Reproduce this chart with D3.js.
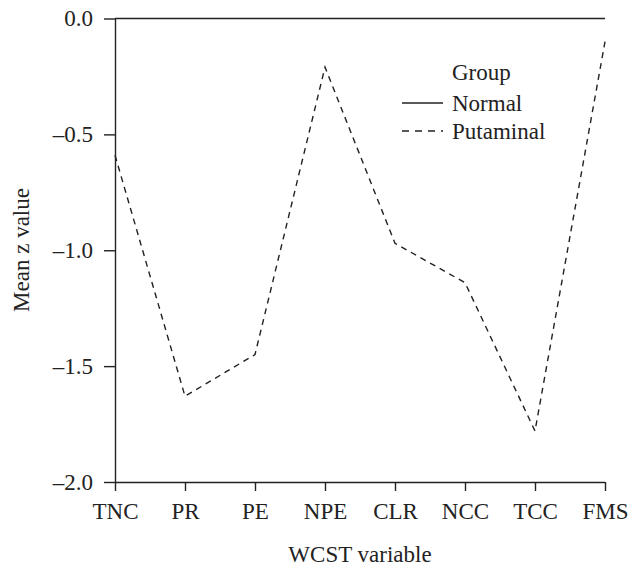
<!DOCTYPE html>
<html><head><meta charset="utf-8">
<script src="https://cdn.jsdelivr.net/npm/d3@7"></script>
<style>body{margin:0;background:#fff}svg{display:block}
text{font-family:"Liberation Serif","Times New Roman",Times,"DejaVu Serif",serif;}</style>
</head><body>
<svg id="c" width="637" height="572"></svg>
<script>
const categories = ["TNC","PR","PE","NPE","CLR","NCC","TCC","FMS"];
const normalValues = [0,0,0,0,0,0,0,0];
const putaminalValues = [-0.59,-1.63,-1.45,-0.21,-0.97,-1.14,-1.78,-0.10];
const yTicks = [0,-0.5,-1.0,-1.5,-2.0];
const seriesNames = ["Normal","Putaminal"];

const svg = d3.select("#c");
const font = "\"Liberation Serif\", \"Times New Roman\", Times, \"DejaVu Serif\", serif";
const ink = "#222";
const fs = 23;
const x = d3.scalePoint().domain(categories).range([115,605]).padding(0);
const y = d3.scaleLinear().domain([-2,0]).range([482,18.5]);

const fmt = v => (v<0?"\u2013":"") + Math.abs(v).toFixed(1);

const yAxis = svg.append("g").attr("transform","translate(115,0)")
  .call(d3.axisLeft(y).tickValues(yTicks).tickFormat(fmt).tickSize(11).tickPadding(11).tickSizeOuter(0));
const xAxis = svg.append("g").attr("transform","translate(0,482)")
  .call(d3.axisBottom(x).tickSize(9).tickPadding(12).tickSizeOuter(0));
[yAxis,xAxis].forEach(g=>{
  g.attr("font-family",null).attr("font-size",null);
  g.select(".domain").attr("stroke",ink).attr("stroke-width",1.4);
  g.selectAll(".tick line").attr("stroke",ink).attr("stroke-width",1.4);
  g.selectAll(".tick text").attr("fill",ink).attr("font-family",font).attr("font-size",fs);
});
xAxis.select(".domain").attr("d","M115,0.5H605");

const line = d3.line().x((d,i)=>x(categories[i])).y(d=>y(d));
svg.append("path").datum(normalValues).attr("d",line).attr("fill","none")
  .attr("stroke",ink).attr("stroke-width",1.4);
svg.append("path").datum(putaminalValues).attr("d",line).attr("fill","none")
  .attr("stroke",ink).attr("stroke-width",1.4).attr("stroke-dasharray","6,5");

svg.append("text").attr("x",360).attr("y",562).attr("text-anchor","middle")
  .attr("fill",ink).attr("font-family",font).attr("font-size",fs).text("WCST variable");
svg.append("text").attr("transform","translate(29,250) rotate(-90)").attr("text-anchor","middle")
  .attr("fill",ink).attr("font-family",font).attr("font-size",fs).text("Mean z value");

const lg = svg.append("g");
lg.append("text").attr("x",452).attr("y",80).attr("fill",ink).attr("font-family",font).attr("font-size",fs).text("Group");
seriesNames.forEach((n,i)=>{
  const yy = 103 + i*28;
  lg.append("line").attr("x1",402).attr("x2",443).attr("y1",yy).attr("y2",yy)
    .attr("stroke",ink).attr("stroke-width",1.4).attr("stroke-dasharray", i===1?"7,6":null);
  lg.append("text").attr("x",452).attr("y",yy+8).attr("fill",ink).attr("font-family",font).attr("font-size",fs).text(n);
});
</script>
</body></html>
